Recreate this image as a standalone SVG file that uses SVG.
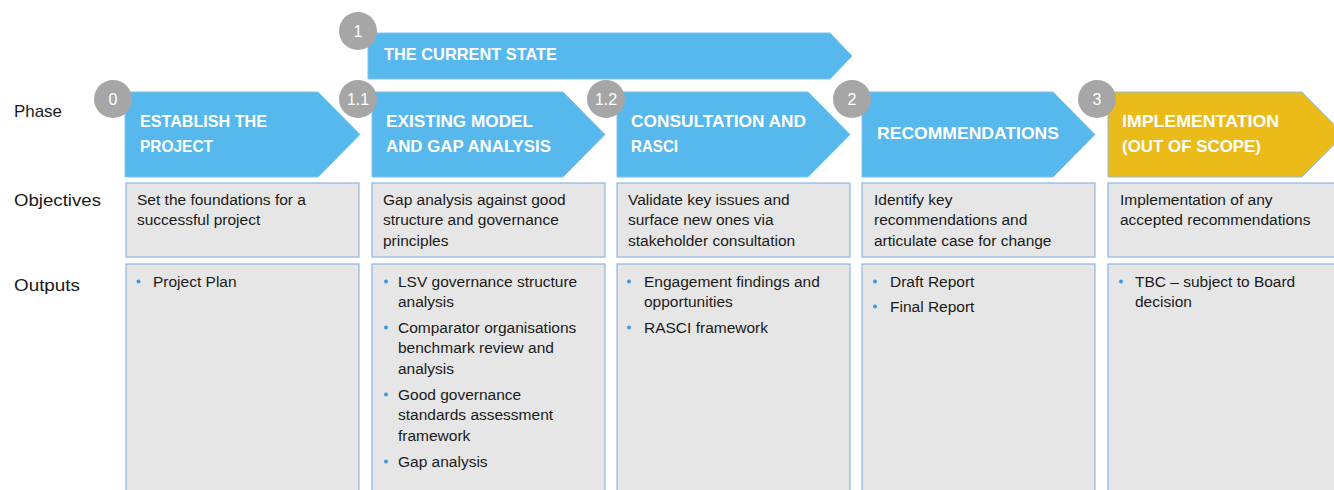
<svg xmlns="http://www.w3.org/2000/svg" width="1334" height="490" viewBox="0 0 1334 490">
  <style>
    .arrow { fill: #56b8ec; stroke: #7cc4ef; stroke-width: 1; }
    .arrow-out { fill: #ebbb1a; stroke: #8fbde6; stroke-width: 1; }
    .badge { fill: #a6a6a6; }
    .badge-txt { font-family: "Liberation Sans", Arial, sans-serif; font-size: 16px; fill: #ffffff; text-anchor: middle; }
    .head { font-family: "Liberation Sans", Arial, sans-serif; font-size: 17px; font-weight: bold; fill: #ffffff; }
    .row-label { font-family: "Liberation Sans", Arial, sans-serif; font-size: 17px; fill: #1a1a1a; }
    .box { fill: #e6e6e6; stroke: #8ab6e2; stroke-width: 1.2; }
    .body { font-family: "Liberation Sans", Arial, sans-serif; font-size: 15.5px; fill: #1a1a1a; }
    .dot { fill: #3a9ae0; }
  </style>

  <rect width="1334" height="490" fill="#ffffff"/>

  <!-- row labels -->
  <g id="row-labels">
    <text class="row-label" x="14" y="117" textLength="48" lengthAdjust="spacingAndGlyphs">Phase</text>
    <text class="row-label" x="14" y="206" textLength="87" lengthAdjust="spacingAndGlyphs">Objectives</text>
    <text class="row-label" x="14" y="291" textLength="66" lengthAdjust="spacingAndGlyphs">Outputs</text>
  </g>

  <!-- spanning stage 1 -->
  <g id="stage-1">
    <polygon class="arrow" points="368,33 830,33 852,56 830,79 368,79"/>
    <text class="head" x="384" y="60" textLength="173" lengthAdjust="spacingAndGlyphs">THE CURRENT STATE</text>
    <circle class="badge" cx="358" cy="31" r="19"/>
    <text class="badge-txt" x="358" y="36.5">1</text>
  </g>

  <!-- phase 0 -->
  <g id="phase-0">
    <polygon class="arrow" points="125,92 318,92 360,134.5 318,177 125,177"/>
    <text class="head" x="140" y="127" textLength="127" lengthAdjust="spacingAndGlyphs">ESTABLISH THE</text>
    <text class="head" x="140" y="152" textLength="73" lengthAdjust="spacingAndGlyphs">PROJECT</text>
    <circle class="badge" cx="113" cy="99" r="19"/>
    <text class="badge-txt" x="113" y="104.5">0</text>
    <rect class="box" x="126" y="183" width="233" height="74"/>
    <text class="body" x="137" y="204.5">Set the foundations for a</text>
    <text class="body" x="137" y="224.5">successful project</text>
    <rect class="box" x="126" y="264" width="233" height="240"/>
    <circle class="dot" cx="138.5" cy="281.5" r="2"/>
    <text class="body" x="153" y="286.5">Project Plan</text>
  </g>

  <!-- phase 1.1 -->
  <g id="phase-1-1">
    <polygon class="arrow" points="372,92 563,92 605,134.5 563,177 372,177"/>
    <text class="head" x="386" y="127" textLength="147" lengthAdjust="spacingAndGlyphs">EXISTING MODEL</text>
    <text class="head" x="386" y="152" textLength="165" lengthAdjust="spacingAndGlyphs">AND GAP ANALYSIS</text>
    <circle class="badge" cx="358" cy="99" r="19"/>
    <text class="badge-txt" x="358" y="104.5">1.1</text>
    <rect class="box" x="372" y="183" width="233" height="74"/>
    <text class="body" x="383" y="204.5">Gap analysis against good</text>
    <text class="body" x="383" y="224.5">structure and governance</text>
    <text class="body" x="383" y="245.5">principles</text>
    <rect class="box" x="372" y="264" width="233" height="240"/>
    <circle class="dot" cx="386" cy="281.5" r="2"/>
    <text class="body" x="398" y="286.5">LSV governance structure</text>
    <text class="body" x="398" y="306.5">analysis</text>
    <circle class="dot" cx="386" cy="327.5" r="2"/>
    <text class="body" x="398" y="332.5">Comparator organisations</text>
    <text class="body" x="398" y="352.5">benchmark review and</text>
    <text class="body" x="398" y="373.5">analysis</text>
    <circle class="dot" cx="386" cy="394.5" r="2"/>
    <text class="body" x="398" y="399.5">Good governance</text>
    <text class="body" x="398" y="419.5">standards assessment</text>
    <text class="body" x="398" y="440.5">framework</text>
    <circle class="dot" cx="386" cy="461.5" r="2"/>
    <text class="body" x="398" y="466.5">Gap analysis</text>
  </g>

  <!-- phase 1.2 -->
  <g id="phase-1-2">
    <polygon class="arrow" points="617,92 808,92 850,134.5 808,177 617,177"/>
    <text class="head" x="631" y="127" textLength="175" lengthAdjust="spacingAndGlyphs">CONSULTATION AND</text>
    <text class="head" x="631" y="152" textLength="47" lengthAdjust="spacingAndGlyphs">RASCI</text>
    <circle class="badge" cx="606" cy="99" r="19"/>
    <text class="badge-txt" x="606" y="104.5">1.2</text>
    <rect class="box" x="617" y="183" width="233" height="74"/>
    <text class="body" x="628" y="204.5">Validate key issues and</text>
    <text class="body" x="628" y="224.5">surface new ones via</text>
    <text class="body" x="628" y="245.5">stakeholder consultation</text>
    <rect class="box" x="617" y="264" width="233" height="240"/>
    <circle class="dot" cx="629" cy="281.5" r="2"/>
    <text class="body" x="644" y="286.5">Engagement findings and</text>
    <text class="body" x="644" y="306.5">opportunities</text>
    <circle class="dot" cx="629" cy="327.5" r="2"/>
    <text class="body" x="644" y="332.5">RASCI framework</text>
  </g>

  <!-- phase 2 -->
  <g id="phase-2">
    <polygon class="arrow" points="862,92 1053,92 1095,134.5 1053,177 862,177"/>
    <text class="head" x="877" y="139" textLength="182" lengthAdjust="spacingAndGlyphs">RECOMMENDATIONS</text>
    <circle class="badge" cx="852" cy="99" r="19"/>
    <text class="badge-txt" x="852" y="104.5">2</text>
    <rect class="box" x="862" y="183" width="233" height="74"/>
    <text class="body" x="874" y="204.5">Identify key</text>
    <text class="body" x="874" y="224.5">recommendations and</text>
    <text class="body" x="874" y="245.5">articulate case for change</text>
    <rect class="box" x="862" y="264" width="233" height="240"/>
    <circle class="dot" cx="875" cy="281.5" r="2"/>
    <text class="body" x="890" y="286.5">Draft Report</text>
    <circle class="dot" cx="875" cy="306.5" r="2"/>
    <text class="body" x="890" y="311.5">Final Report</text>
  </g>

  <!-- phase 3 -->
  <g id="phase-3">
    <polygon class="arrow-out" points="1108,92 1302,92 1344,134.5 1302,177 1108,177"/>
    <text class="head" x="1122" y="127" textLength="157" lengthAdjust="spacingAndGlyphs">IMPLEMENTATION</text>
    <text class="head" x="1122" y="152" textLength="139" lengthAdjust="spacingAndGlyphs">(OUT OF SCOPE)</text>
    <circle class="badge" cx="1097" cy="99" r="19"/>
    <text class="badge-txt" x="1097" y="104.5">3</text>
    <rect class="box" x="1108" y="183" width="233" height="74"/>
    <text class="body" x="1120" y="204.5">Implementation of any</text>
    <text class="body" x="1120" y="224.5">accepted recommendations</text>
    <rect class="box" x="1108" y="264" width="233" height="240"/>
    <circle class="dot" cx="1121" cy="281.5" r="2"/>
    <text class="body" x="1135" y="286.5">TBC – subject to Board</text>
    <text class="body" x="1135" y="306.5">decision</text>
  </g>
</svg>
